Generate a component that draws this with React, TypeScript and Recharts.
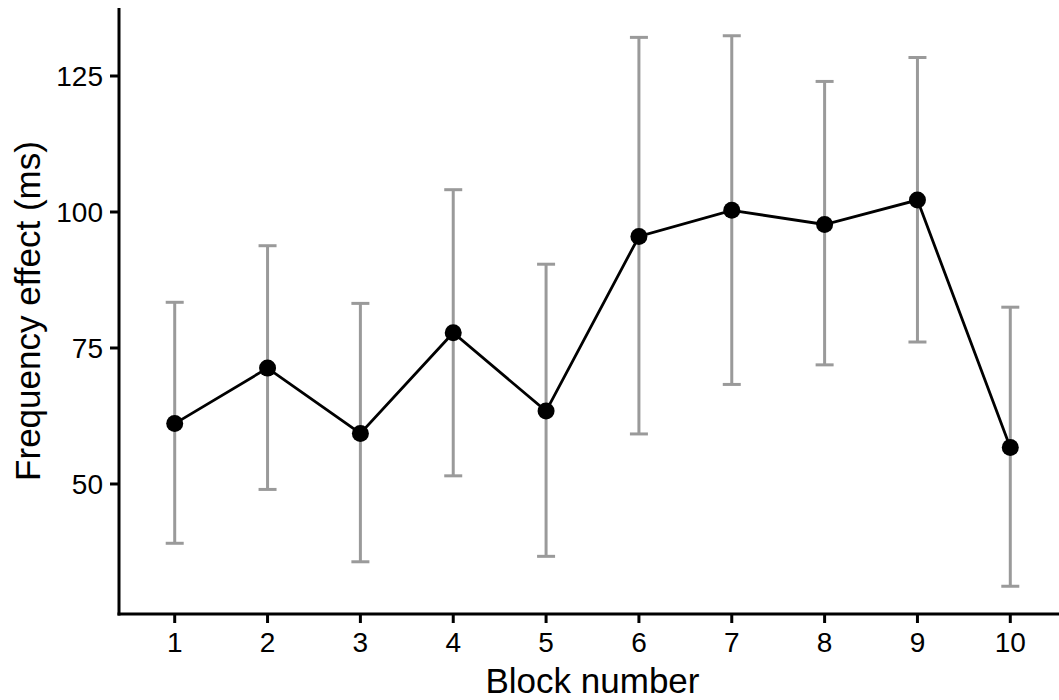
import { LineChart, Line, XAxis, YAxis, ErrorBar } from 'recharts';

const blocks = [1, 2, 3, 4, 5, 6, 7, 8, 9, 10];
const means = [61.1, 71.3, 59.3, 77.8, 63.4, 95.5, 100.3, 97.7, 102.2, 56.7];
const lower = [39.1, 49.0, 35.7, 51.5, 36.7, 59.2, 68.3, 71.9, 76.1, 31.2];
const upper = [83.4, 93.8, 83.2, 104.1, 90.4, 132.1, 132.4, 124.0, 128.4, 82.5];
const yTicks = [50, 75, 100, 125];

const data = blocks.map((b, i) => ({
  block: b,
  effect: means[i],
  err: [means[i] - lower[i], upper[i] - means[i]],
}));

const font = '"Liberation Sans", Arial, sans-serif';

export default function App() {
  return (
    <div style={{ position: 'absolute', left: 0, top: 0, width: 1059, height: 700, overflow: 'hidden', background: '#fff' }}>
      <div style={{ position: 'absolute', left: 8, top: 8 }}>
        <LineChart width={1058} height={692} data={data} margin={{ top: 0, right: 0, bottom: 0, left: 0 }}>
          <XAxis
            type="number"
            dataKey="block"
            domain={[0.4, 10.6]}
            ticks={blocks}
            interval={0}
            allowDataOverflow
            height={86}
            tickSize={9}
            tickMargin={9}
            axisLine={{ stroke: '#000', strokeWidth: 3, strokeLinecap: 'square' }}
            tickLine={{ stroke: '#000', strokeWidth: 3 }}
            tick={{ fontSize: 28, fill: '#000', fontFamily: font }}
            label={{
              value: 'Block number',
              position: 'insideBottom',
              offset: 7,
              style: { fontSize: 35, fill: '#000', fontFamily: font },
            }}
          />
          <YAxis
            type="number"
            domain={[26.1, 137.5]}
            ticks={yTicks}
            interval={0}
            allowDataOverflow
            width={111}
            tickSize={9}
            tickMargin={7}
            axisLine={{ stroke: '#000', strokeWidth: 3, strokeLinecap: 'square' }}
            tickLine={{ stroke: '#000', strokeWidth: 3 }}
            tick={{ fontSize: 28, fill: '#000', fontFamily: font }}
            label={{
              value: 'Frequency effect (ms)',
              angle: -90,
              position: 'insideLeft',
              offset: 20,
              style: { fontSize: 35, fill: '#000', fontFamily: font, textAnchor: 'middle' },
            }}
          />
          <Line
            type="linear"
            dataKey="effect"
            stroke="#000"
            strokeWidth={2.8}
            dot={{ r: 8.5, fill: '#000', stroke: '#000', strokeWidth: 0 }}
            activeDot={false}
            isAnimationActive={false}
          >
            <ErrorBar dataKey="err" direction="y" width={9} stroke="#9a9a9a" strokeWidth={3} isAnimationActive={false} />
          </Line>
        </LineChart>
      </div>
    </div>
  );
}
